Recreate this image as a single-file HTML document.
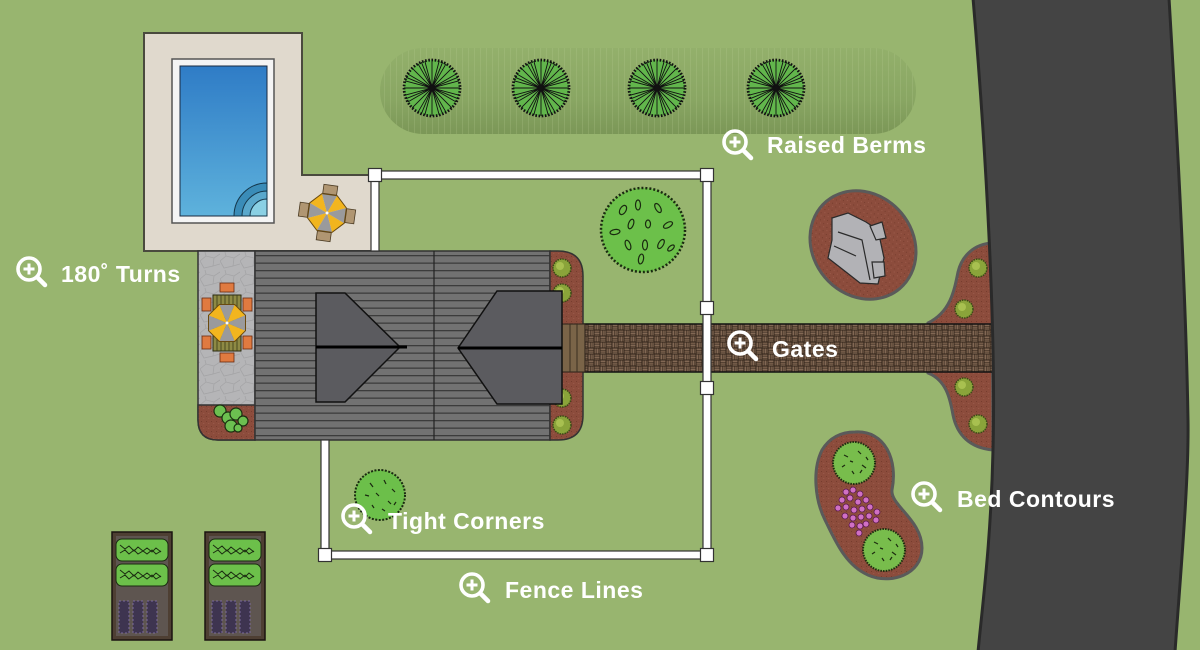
<!DOCTYPE html>
<html><head><meta charset="utf-8">
<style>
html,body{margin:0;padding:0;background:#98b56f;}
svg{display:block;}
.lbl{font-family:"Liberation Sans",sans-serif;font-weight:bold;font-size:23px;fill:#fff;letter-spacing:0.5px;}
</style></head>
<body>
<svg width="1200" height="650" viewBox="0 0 1200 650" xmlns="http://www.w3.org/2000/svg">
<defs>
  <linearGradient id="berm" x1="0" y1="0" x2="0" y2="1">
    <stop offset="0" stop-color="#93b06b"/>
    <stop offset="0.6" stop-color="#89a663"/>
    <stop offset="1" stop-color="#7b9757"/>
  </linearGradient>
  <linearGradient id="water" x1="0" y1="0" x2="0" y2="1">
    <stop offset="0" stop-color="#2f7cc6"/>
    <stop offset="1" stop-color="#5eb2dc"/>
  </linearGradient>
  <pattern id="bermlines" width="6" height="10" patternUnits="userSpaceOnUse">
    <rect x="0" y="0" width="0.7" height="10" fill="#b9cf96" opacity="0.3"/>
  </pattern>
  <pattern id="deck" width="10" height="7.5" patternUnits="userSpaceOnUse">
    <rect width="10" height="7.5" fill="#727272"/>
    <rect y="0" width="10" height="1.3" fill="#3c3c3c"/>
  </pattern>
  <pattern id="pave" width="12" height="12" patternUnits="userSpaceOnUse">
    <rect width="12" height="12" fill="#2f2219"/>
    <rect x="0.5" y="0.5" width="5" height="1.4" fill="#8b705a"/>
    <rect x="0.5" y="2.5" width="5" height="1.4" fill="#7a604c"/>
    <rect x="0.5" y="4.4" width="5" height="1.2" fill="#8b705a"/>
    <rect x="6.5" y="0.5" width="1.4" height="5" fill="#7a604c"/>
    <rect x="8.5" y="0.5" width="1.4" height="5" fill="#8b705a"/>
    <rect x="10.4" y="0.5" width="1.2" height="5" fill="#7a604c"/>
    <rect x="0.5" y="6.5" width="1.4" height="5" fill="#8b705a"/>
    <rect x="2.5" y="6.5" width="1.4" height="5" fill="#7a604c"/>
    <rect x="4.4" y="6.5" width="1.2" height="5" fill="#8b705a"/>
    <rect x="6.5" y="6.5" width="5" height="1.4" fill="#7a604c"/>
    <rect x="6.5" y="8.5" width="5" height="1.4" fill="#8b705a"/>
    <rect x="6.5" y="10.4" width="5" height="1.2" fill="#7a604c"/>
  </pattern>
  <pattern id="mulch" width="5" height="5" patternUnits="userSpaceOnUse">
    <rect width="5" height="5" fill="#8c4c3c"/>
    <rect x="1" y="1" width="0.8" height="0.8" fill="#6a3426"/>
    <rect x="3.4" y="3" width="0.8" height="0.8" fill="#a56454"/>
  </pattern>
  <pattern id="stone" width="20" height="18" patternUnits="userSpaceOnUse">
    <rect width="20" height="18" fill="#b5b5b7"/>
    <path d="M0 9 L6 4 L14 6 L20 2 M6 4 L5 0 M14 6 L13 14 L4 16 L0 9 M13 14 L20 12" stroke="#a4a4a6" stroke-width="0.8" fill="none"/>
  </pattern>
  <g id="tree">
    <circle r="28" fill="#62b64c"/>
    <path d="M-28 0L28 0M-27 -7.2L27 7.2M-24.2 -14L24.2 14M-19.8 -19.8L19.8 19.8M-14 -24.2L14 24.2M-7.2 -27L7.2 27M0 -28L0 28M7.2 -27L-7.2 27M14 -24.2L-14 24.2M19.8 -19.8L-19.8 19.8M24.2 -14L-24.2 14M27 -7.2L-27 7.2M-25.9 -10.7L25.9 10.7M-10.7 -25.9L10.7 25.9M10.7 -25.9L-10.7 25.9M25.9 -10.7L-25.9 10.7" stroke="#111" stroke-width="0.9"/>
    <circle r="28" fill="none" stroke="#111" stroke-width="2.8" stroke-dasharray="1.6 1.6"/>
    <circle r="2.5" fill="#111"/>
  </g>
  <g id="umb">
    <polygon points="0,0 18.5,7.7 7.7,18.5" fill="#f2b51e"/>
    <polygon points="0,0 7.7,18.5 -7.7,18.5" fill="#9a9a9c"/>
    <polygon points="0,0 -7.7,18.5 -18.5,7.7" fill="#f2b51e"/>
    <polygon points="0,0 -18.5,7.7 -18.5,-7.7" fill="#9a9a9c"/>
    <polygon points="0,0 -18.5,-7.7 -7.7,-18.5" fill="#f2b51e"/>
    <polygon points="0,0 -7.7,-18.5 7.7,-18.5" fill="#9a9a9c"/>
    <polygon points="0,0 7.7,-18.5 18.5,-7.7" fill="#f2b51e"/>
    <polygon points="0,0 18.5,-7.7 18.5,7.7" fill="#9a9a9c"/>
    <polygon points="18.5,7.7 7.7,18.5 -7.7,18.5 -18.5,7.7 -18.5,-7.7 -7.7,-18.5 7.7,-18.5 18.5,-7.7" fill="none" stroke="#6a4a10" stroke-width="1"/>
    <circle r="1.5" fill="#fff"/>
  </g>
  <g id="mag">
    <circle r="11" fill="none" stroke="#fff" stroke-width="3.6"/>
    <path d="M-5.5 0H5.5M0 -5.5V5.5" stroke="#fff" stroke-width="3"/>
    <path d="M9 9L16 16" stroke="#fff" stroke-width="4.5" stroke-linecap="round"/>
  </g>
  <g id="shrub">
    <circle r="9" fill="#8aa43a" stroke="#3a4a16" stroke-width="1.5" stroke-dasharray="1.5 1"/>
    <circle cx="-2" cy="-2" r="4" fill="#a8c050"/>
  </g>
  <g id="rbush">
    <circle r="21" fill="#78bd4c" stroke="#1d2d10" stroke-width="2" stroke-dasharray="1.5 1.2"/>
    <path d="M-10 -8l4 2M4 -12l3 3M-12 4l3 -2M8 2l4 3M-2 8l2 3M-4 -2l3 1M6 10l2 -3M12 -6l2 3" stroke="#1d2d10" stroke-width="1.2"/>
  </g>
</defs>

<rect width="1200" height="650" fill="#98b56f"/>

<!-- berm -->
<rect x="380" y="48" width="536" height="86" rx="43" fill="url(#berm)"/>
<rect x="380" y="48" width="536" height="86" rx="43" fill="url(#bermlines)"/>
<use href="#tree" x="432" y="88"/>
<use href="#tree" x="541" y="88"/>
<use href="#tree" x="657" y="88"/>
<use href="#tree" x="776" y="88"/>

<!-- road-side bed -->
<path d="M992 243 C975 244 962 255 958 272 C954 292 950 312 928 323 L928 373 C946 380 950 398 953 415 C957 435 970 448 993 450 Z" fill="url(#mulch)" stroke="#5a5a5a" stroke-width="3"/>

<!-- path -->
<rect x="583" y="324" width="412" height="48" fill="url(#pave)" stroke="#111" stroke-width="1.5"/>

<!-- road -->
<path d="M973 -2 C986 150 996 330 993 450 C991 540 983 600 978 652 L1175 652 C1180 580 1189 480 1188 420 C1186 300 1178 150 1169 -2 Z" fill="#444444" stroke="#2a2a2a" stroke-width="3"/>
<use href="#shrub" x="978" y="268"/>
<use href="#shrub" x="964" y="309"/>
<use href="#shrub" x="964" y="387"/>
<use href="#shrub" x="978" y="424"/>

<!-- pool deck -->
<path d="M144 33 L302 33 L302 175 L375 175 L375 251 L144 251 Z" fill="#e0d9cd" stroke="#4a4a3e" stroke-width="2"/>
<rect x="172" y="59" width="102" height="164" fill="#f4f4f4" stroke="#555" stroke-width="1.5"/>
<rect x="180" y="66" width="87" height="150" fill="url(#water)" stroke="#1a2a40" stroke-width="1"/>
<path d="M267 183 A33 33 0 0 0 234 216 L267 216 Z" fill="#3a8cb8" stroke="#14364a" stroke-width="1"/>
<path d="M267 191 A25 25 0 0 0 242 216 L267 216 Z" fill="#5aa8cc" stroke="#14364a" stroke-width="1"/>
<path d="M267 199 A17 17 0 0 0 250 216 L267 216 Z" fill="#8ad0e4" stroke="#14364a" stroke-width="1"/>
<g transform="translate(327,213) rotate(8)">
  <rect x="-7" y="-28" width="14" height="9" fill="#b09672" stroke="#4a3a22" stroke-width="0.8"/>
  <rect x="-7" y="19" width="14" height="9" fill="#b09672" stroke="#4a3a22" stroke-width="0.8"/>
  <rect x="-28" y="-7" width="9" height="14" fill="#b09672" stroke="#4a3a22" stroke-width="0.8"/>
  <rect x="19" y="-7" width="9" height="14" fill="#b09672" stroke="#4a3a22" stroke-width="0.8"/>
  <use href="#umb"/>
</g>

<!-- left patio + bed -->
<path d="M198 251 L255 251 L255 440 L218 440 Q198 440 198 420 Z" fill="url(#stone)" stroke="#333" stroke-width="1.5"/>
<path d="M198 405 L255 405 L255 440 L218 440 Q198 440 198 420 Z" fill="url(#mulch)" stroke="#333" stroke-width="1.5"/>
<g fill="#6cc050" stroke="#1a3010" stroke-width="1.2">
  <circle cx="220" cy="411" r="6"/>
  <circle cx="228" cy="418" r="6"/>
  <circle cx="236" cy="414" r="6"/>
  <circle cx="243" cy="421" r="5"/>
  <circle cx="231" cy="426" r="6"/>
  <circle cx="238" cy="428" r="4"/>
</g>
<g>
  <rect x="220" y="283" width="14" height="9" fill="#e07a40" stroke="#6a2a10" stroke-width="0.8"/>
  <rect x="220" y="353" width="14" height="9" fill="#e07a40" stroke="#6a2a10" stroke-width="0.8"/>
  <rect x="202" y="298" width="9" height="13" fill="#e07a40" stroke="#6a2a10" stroke-width="0.8"/>
  <rect x="202" y="336" width="9" height="13" fill="#e07a40" stroke="#6a2a10" stroke-width="0.8"/>
  <rect x="243" y="298" width="9" height="13" fill="#e07a40" stroke="#6a2a10" stroke-width="0.8"/>
  <rect x="243" y="336" width="9" height="13" fill="#e07a40" stroke="#6a2a10" stroke-width="0.8"/>
  <rect x="213" y="295" width="28" height="56" fill="#8e8a44" stroke="#2a2a10" stroke-width="1"/>
  <path d="M217 295V351M221 295V351M225 295V351M229 295V351M233 295V351M237 295V351" stroke="#3a3a18" stroke-width="0.8"/>
  <use href="#umb" x="227" y="323"/>
</g>

<!-- deck -->
<rect x="255" y="251" width="295" height="189" fill="url(#deck)" stroke="#333" stroke-width="1.5"/>
<line x1="434" y1="251" x2="434" y2="440" stroke="#222" stroke-width="1.2"/>
<path d="M550 251 L558 251 Q583 251 583 276 L583 415 Q583 440 558 440 L550 440 Z" fill="url(#mulch)" stroke="#333" stroke-width="1.5"/>
<use href="#shrub" x="562" y="268"/>
<use href="#shrub" x="562" y="293"/>
<use href="#shrub" x="562" y="398"/>
<use href="#shrub" x="562" y="425"/>
<rect x="562" y="324" width="23" height="48" fill="#7a6448" stroke="#2a2018" stroke-width="1"/>
<path d="M570 324V372M577 324V372" stroke="#3a2e20" stroke-width="1"/>
<polygon points="316,293 345,293 400,347 345,402 316,402" fill="#5b5b5f" stroke="#111" stroke-width="1.5"/>
<line x1="316" y1="347" x2="407" y2="347" stroke="#000" stroke-width="3"/>
<polygon points="497,291 562,291 562,404 497,404 458,348" fill="#5b5b5f" stroke="#111" stroke-width="1.5"/>
<line x1="458" y1="348" x2="562" y2="348" stroke="#000" stroke-width="3"/>

<!-- big bush -->
<g transform="translate(643,230)">
  <circle r="42" fill="#6cc04a" stroke="#1a2a10" stroke-width="2.5" stroke-dasharray="2 2"/>
  <g fill="none" stroke="#1a2a10" stroke-width="1.2">
    <ellipse cx="-20" cy="-20" rx="3" ry="5" transform="rotate(30 -20 -20)"/>
    <ellipse cx="-5" cy="-25" rx="2.5" ry="5"/>
    <ellipse cx="15" cy="-22" rx="2.5" ry="5" transform="rotate(-30 15 -22)"/>
    <ellipse cx="25" cy="-5" rx="2.5" ry="5" transform="rotate(60 25 -5)"/>
    <ellipse cx="-28" cy="2" rx="2.5" ry="5" transform="rotate(80 -28 2)"/>
    <ellipse cx="-12" cy="-6" rx="2.5" ry="5" transform="rotate(20 -12 -6)"/>
    <ellipse cx="5" cy="-6" rx="2.5" ry="4"/>
    <ellipse cx="-15" cy="15" rx="2.5" ry="5" transform="rotate(-20 -15 15)"/>
    <ellipse cx="2" cy="15" rx="2.5" ry="5"/>
    <ellipse cx="18" cy="14" rx="2.5" ry="5" transform="rotate(30 18 14)"/>
    <ellipse cx="-2" cy="29" rx="2.5" ry="5" transform="rotate(10 -2 29)"/>
    <ellipse cx="28" cy="18" rx="2" ry="4" transform="rotate(50 28 18)"/>
  </g>
</g>

<!-- rock bed -->
<ellipse cx="863" cy="245" rx="57" ry="50" transform="rotate(50 863 245)" fill="url(#mulch)" stroke="#5a5a5a" stroke-width="3"/>
<g fill="#b2b2b6" stroke="#2a2a2a" stroke-width="1.2">
  <polygon points="832,218 848,213 866,222 878,230 884,258 878,284 860,283 846,272 828,258 832,240"/>
  <polygon points="870,226 882,222 886,238 876,240"/>
  <polygon points="872,262 884,262 885,276 874,278"/>
  <path d="M838 232 L862 240 L870 280 M834 246 L856 256" fill="none"/>
</g>

<!-- kidney bed -->
<path d="M855 432 C885 430 898 460 892 490 C890 505 922 520 922 548 C922 575 890 585 868 575 C845 565 835 540 825 520 C815 500 812 470 822 450 C830 437 842 432 855 432 Z" fill="url(#mulch)" stroke="#5a5a5a" stroke-width="3"/>
<use href="#rbush" x="854" y="463"/>
<use href="#rbush" x="884" y="550"/>
<g fill="#d070c4" stroke="#5a1a50" stroke-width="0.8">
  <circle cx="846" cy="492" r="3"/><circle cx="853" cy="490" r="3"/><circle cx="860" cy="494" r="3"/>
  <circle cx="842" cy="500" r="3"/><circle cx="850" cy="498" r="3"/><circle cx="858" cy="502" r="3"/><circle cx="866" cy="500" r="3"/>
  <circle cx="838" cy="508" r="3"/><circle cx="846" cy="507" r="3"/><circle cx="854" cy="510" r="3"/><circle cx="862" cy="509" r="3"/><circle cx="870" cy="507" r="3"/><circle cx="877" cy="512" r="3"/>
  <circle cx="845" cy="516" r="3"/><circle cx="853" cy="518" r="3"/><circle cx="861" cy="517" r="3"/><circle cx="869" cy="516" r="3"/><circle cx="876" cy="520" r="3"/>
  <circle cx="852" cy="525" r="3"/><circle cx="860" cy="526" r="3"/><circle cx="866" cy="524" r="3"/><circle cx="859" cy="533" r="3"/>
</g>

<!-- tight corners bush -->
<g transform="translate(380,495)">
  <circle r="25" fill="#6cbf4a" stroke="#1a2a10" stroke-width="2" stroke-dasharray="2 1.5"/>
  <path d="M-10 -12l3 4M4 -15l2 4M12 -6l3 3M-15 0l4 1M-4 -2l3 3M8 6l3 3M-8 10l2 3M2 14l3 2M14 10l2 -3" stroke="#1a2a10" stroke-width="1.2"/>
</g>

<!-- raised garden boxes -->
<g>
  <rect x="112" y="532" width="60" height="108" fill="#4e3f33" stroke="#1a1410" stroke-width="1.5"/>
  <rect x="116" y="536" width="52" height="100" fill="#5e5550"/>
  <rect x="116" y="539" width="52" height="22" rx="6" fill="#6cc04a" stroke="#1a2a10" stroke-width="1"/>
  <rect x="116" y="564" width="52" height="22" rx="6" fill="#6cc04a" stroke="#1a2a10" stroke-width="1"/>
  <path d="M120 545l5 4l4 -3l5 5l4 -4l5 4l4 -3l5 4l4 -4l5 4M120 553l5 -3l4 4l5 -4l4 4l5 -3l4 3l5 -4l4 4l5 -3M120 570l5 4l4 -3l5 5l4 -4l5 4l4 -3l5 4l4 -4l5 4M120 578l5 -3l4 4l5 -4l4 4l5 -3l4 3l5 -4l4 4l5 -3" stroke="#1a2a10" stroke-width="1" fill="none"/>
  <rect x="119" y="601" width="10" height="32" fill="#3e3450" stroke="#7a6a9a" stroke-width="1" stroke-dasharray="2 2"/>
  <rect x="133" y="601" width="10" height="32" fill="#3e3450" stroke="#7a6a9a" stroke-width="1" stroke-dasharray="2 2"/>
  <rect x="147" y="601" width="10" height="32" fill="#3e3450" stroke="#7a6a9a" stroke-width="1" stroke-dasharray="2 2"/>
</g>
<g transform="translate(93,0)">
  <rect x="112" y="532" width="60" height="108" fill="#4e3f33" stroke="#1a1410" stroke-width="1.5"/>
  <rect x="116" y="536" width="52" height="100" fill="#5e5550"/>
  <rect x="116" y="539" width="52" height="22" rx="6" fill="#6cc04a" stroke="#1a2a10" stroke-width="1"/>
  <rect x="116" y="564" width="52" height="22" rx="6" fill="#6cc04a" stroke="#1a2a10" stroke-width="1"/>
  <path d="M120 545l5 4l4 -3l5 5l4 -4l5 4l4 -3l5 4l4 -4l5 4M120 553l5 -3l4 4l5 -4l4 4l5 -3l4 3l5 -4l4 4l5 -3M120 570l5 4l4 -3l5 5l4 -4l5 4l4 -3l5 4l4 -4l5 4M120 578l5 -3l4 4l5 -4l4 4l5 -3l4 3l5 -4l4 4l5 -3" stroke="#1a2a10" stroke-width="1" fill="none"/>
  <rect x="119" y="601" width="10" height="32" fill="#3e3450" stroke="#7a6a9a" stroke-width="1" stroke-dasharray="2 2"/>
  <rect x="133" y="601" width="10" height="32" fill="#3e3450" stroke="#7a6a9a" stroke-width="1" stroke-dasharray="2 2"/>
  <rect x="147" y="601" width="10" height="32" fill="#3e3450" stroke="#7a6a9a" stroke-width="1" stroke-dasharray="2 2"/>
</g>

<!-- fence -->
<g fill="#ffffff" stroke="#333" stroke-width="1.2">
  <rect x="375" y="171" width="332" height="8"/>
  <rect x="371" y="175" width="8" height="76"/>
  <rect x="703" y="175" width="8" height="380"/>
  <rect x="321" y="440" width="8" height="115"/>
  <rect x="325" y="551" width="382" height="8"/>
  <rect x="368.5" y="168.5" width="13" height="13"/>
  <rect x="700.5" y="168.5" width="13" height="13"/>
  <rect x="700.5" y="301.5" width="13" height="13"/>
  <rect x="700.5" y="381.5" width="13" height="13"/>
  <rect x="318.5" y="548.5" width="13" height="13"/>
  <rect x="700.5" y="548.5" width="13" height="13"/>
</g>

<!-- labels -->
<use href="#mag" x="735" y="142"/>
<text class="lbl" x="767" y="153">Raised Berms</text>
<use href="#mag" x="29" y="269"/>
<text class="lbl" x="61" y="282">180˚ Turns</text>
<use href="#mag" x="740" y="343"/>
<text class="lbl" x="772" y="357">Gates</text>
<use href="#mag" x="924" y="494"/>
<text class="lbl" x="957" y="507">Bed Contours</text>
<use href="#mag" x="354" y="516"/>
<text class="lbl" x="388" y="529">Tight Corners</text>
<use href="#mag" x="472" y="585"/>
<text class="lbl" x="505" y="598">Fence Lines</text>
</svg>
</body></html>
